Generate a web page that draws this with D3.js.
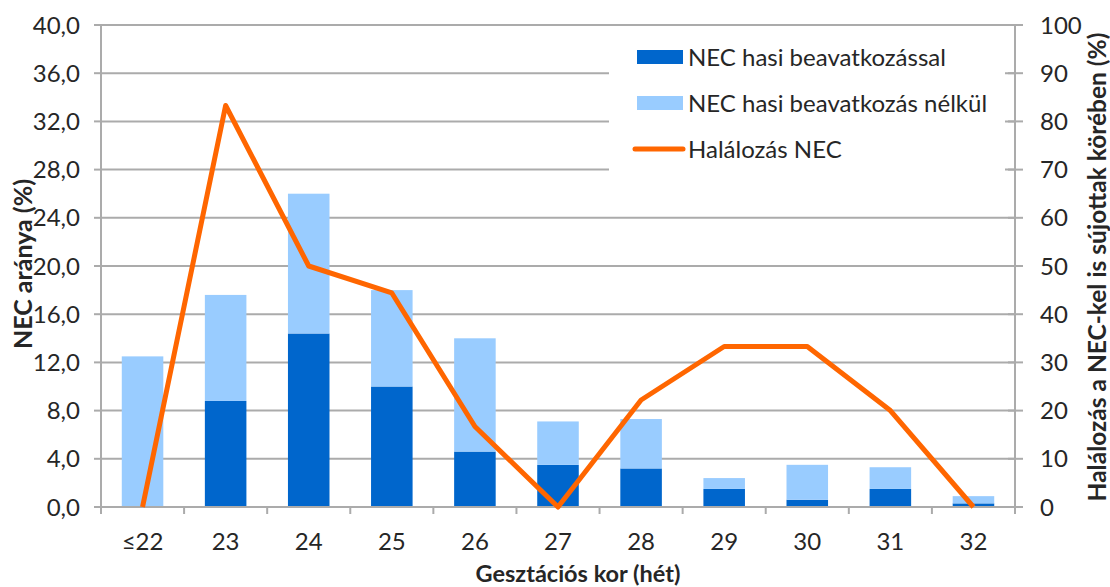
<!DOCTYPE html>
<html>
<head>
<meta charset="UTF-8" />
<script src="https://d3js.org/d3.v7.min.js"></script>
<style>
  body { margin: 0; background: #fff; }
  svg text { font-family: Lato, "Open Sans", sans-serif; fill: #262626; }
</style>
</head>
<body>
<div id="chart"></div>
<script>
// gestational age categories
const categories = ["≤22", "23", "24", "25", "26", "27", "28", "29", "30", "31", "32"];
// NEC with abdominal surgery (%)
const withSurgery = [0, 8.8, 14.4, 10.0, 4.6, 3.5, 3.2, 1.5, 0.6, 1.5, 0.3];
// NEC without abdominal surgery (%)
const withoutSurgery = [12.5, 8.8, 11.6, 8.0, 9.4, 3.6, 4.1, 0.9, 2.9, 1.8, 0.6];
// mortality among NEC cases (%), right axis
const mortality = [0, 83.3, 50.0, 44.4, 16.7, 0, 22.2, 33.3, 33.3, 20.0, 0];
const leftTicks = [0, 4, 8, 12, 16, 20, 24, 28, 32, 36, 40];
const rightTicks = [0, 10, 20, 30, 40, 50, 60, 70, 80, 90, 100];

const W = 1110, H = 587;
const m = { left: 101, right: 1015, top: 25, bottom: 507 };
const gridCol = "#ababab";
const darkBlue = "#0066cc", lightBlue = "#99ccff", orange = "#ff6600";

const svg = d3.select("#chart").append("svg").attr("width", W).attr("height", H);

const x = d3.scaleBand().domain(categories).range([m.left, m.right]).padding(0);
const yL = d3.scaleLinear().domain([0, 40]).range([m.bottom, m.top]);
const yR = d3.scaleLinear().domain([0, 100]).range([m.bottom, m.top]);

// gridlines
svg.append("g").selectAll("line").data(leftTicks.slice(1)).join("line")
  .attr("x1", m.left).attr("x2", m.right)
  .attr("y1", d => yL(d)).attr("y2", d => yL(d))
  .attr("stroke", gridCol).attr("stroke-width", 2);

// stacked bars
const rows = categories.map((c, i) => ({ c, a: withSurgery[i], b: withoutSurgery[i] }));
const stack = d3.stack().keys(["a", "b"])(rows);
const colors = [darkBlue, lightBlue];
const bw = x.bandwidth() * 0.5;
stack.forEach((s, k) => {
  svg.append("g").selectAll("rect").data(s).join("rect")
    .attr("x", d => x(d.data.c) + (x.bandwidth() - bw) / 2)
    .attr("width", bw)
    .attr("y", d => yL(d[1]))
    .attr("height", d => yL(d[0]) - yL(d[1]))
    .attr("fill", colors[k]);
});

// legend box (covers grid)
svg.append("rect").attr("x", 609).attr("y", 32).attr("width", 396).attr("height", 140).attr("fill", "#fff");

// axes lines
svg.append("line").attr("x1", m.left).attr("x2", m.right).attr("y1", m.bottom).attr("y2", m.bottom)
  .attr("stroke", gridCol).attr("stroke-width", 2);
svg.append("line").attr("x1", m.left).attr("x2", m.left).attr("y1", m.top - 1).attr("y2", m.bottom + 7)
  .attr("stroke", gridCol).attr("stroke-width", 2);
svg.append("line").attr("x1", m.right).attr("x2", m.right).attr("y1", m.top - 1).attr("y2", m.bottom + 7)
  .attr("stroke", gridCol).attr("stroke-width", 2);

// left ticks
const gl = svg.append("g");
gl.selectAll("line").data(leftTicks).join("line")
  .attr("x1", m.left - 7).attr("x2", m.left)
  .attr("y1", d => yL(d)).attr("y2", d => yL(d))
  .attr("stroke", gridCol).attr("stroke-width", 2);
gl.selectAll("text").data(leftTicks).join("text")
  .attr("x", 80).attr("y", d => yL(d)).attr("dy", "0.36em")
  .attr("text-anchor", "end").attr("font-size", 24)
  .text(d => d3.format(".1f")(d).replace(".", ","));

// right ticks
const gr = svg.append("g");
gr.selectAll("line").data(rightTicks).join("line")
  .attr("x1", m.right - 7).attr("x2", m.right + 8)
  .attr("y1", d => yR(d)).attr("y2", d => yR(d))
  .attr("stroke", gridCol).attr("stroke-width", 2);
gr.selectAll("text").data(rightTicks).join("text")
  .attr("x", 1040).attr("y", d => yR(d)).attr("dy", "0.36em")
  .attr("text-anchor", "start").attr("font-size", 24)
  .text(d => d);

// x ticks (at band boundaries)
const bounds = categories.map(c => x(c)).concat([m.right]);
svg.append("g").selectAll("line").data(bounds).join("line")
  .attr("x1", d => d).attr("x2", d => d)
  .attr("y1", m.bottom).attr("y2", m.bottom + 7)
  .attr("stroke", gridCol).attr("stroke-width", 2);
svg.append("g").selectAll("text").data(categories).join("text")
  .attr("x", d => x(d) + x.bandwidth() / 2).attr("y", 541).attr("dy", "0.36em")
  .attr("text-anchor", "middle").attr("font-size", 24)
  .text(d => d);

// mortality line
const line = d3.line()
  .x((d, i) => x(categories[i]) + x.bandwidth() / 2)
  .y(d => yR(d));
svg.append("path").datum(mortality).attr("d", line)
  .attr("fill", "none").attr("stroke", orange).attr("stroke-width", 5)
  .attr("stroke-linejoin", "round");

// axis titles
svg.append("text").attr("transform", "translate(23,264) rotate(-90)")
  .attr("text-anchor", "middle").attr("dy", "0.36em")
  .attr("font-size", 25).attr("font-weight", "bold").text("NEC aránya (%)");
svg.append("text").attr("transform", "translate(1097,267) rotate(-90)")
  .attr("text-anchor", "middle").attr("dy", "0.36em")
  .attr("font-size", 24.5).attr("font-weight", "bold").text("Halálozás a NEC-kel is sújottak körében (%)");
svg.append("text").attr("x", 578).attr("y", 574).attr("dy", "0.36em")
  .attr("text-anchor", "middle")
  .attr("font-size", 23.5).attr("font-weight", "bold").text("Gesztációs kor (hét)");

// legend
const legendItems = [
  { name: "NEC hasi beavatkozással", color: darkBlue, type: "rect" },
  { name: "NEC hasi beavatkozás nélkül", color: lightBlue, type: "rect" },
  { name: "Halálozás NEC", color: orange, type: "line" }
];
const lg = svg.append("g").selectAll("g").data(legendItems).join("g")
  .attr("transform", (d, i) => `translate(637,${57 + i * 46})`);
lg.filter(d => d.type === "rect").append("rect")
  .attr("x", 0).attr("y", -7).attr("width", 46).attr("height", 14).attr("fill", d => d.color);
lg.filter(d => d.type === "line").append("line")
  .attr("x1", -2).attr("x2", 46).attr("y1", 0).attr("y2", 0)
  .attr("stroke", d => d.color).attr("stroke-width", 5).attr("stroke-linecap", "round");
lg.append("text").attr("x", 51).attr("dy", "0.36em").attr("font-size", 24).text(d => d.name);
</script>
</body>
</html>
